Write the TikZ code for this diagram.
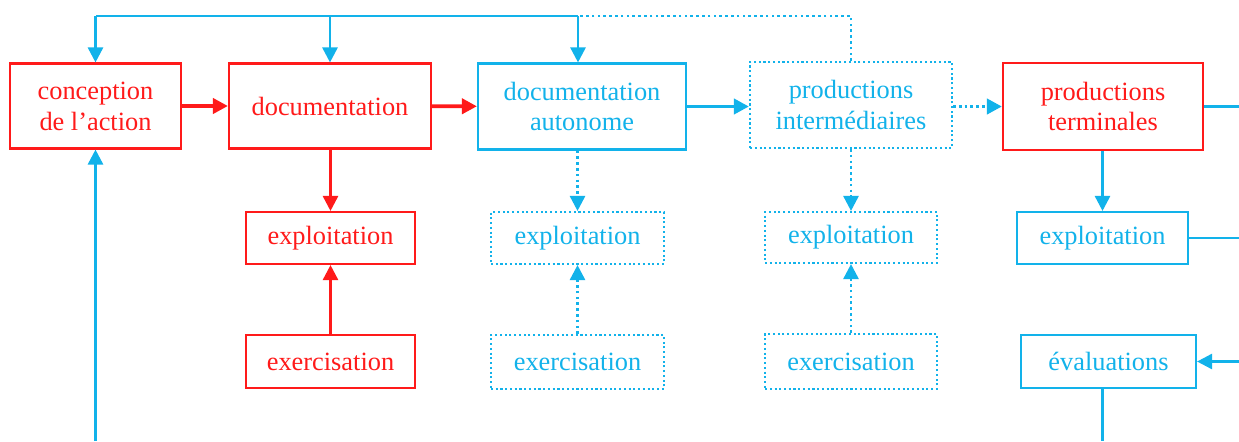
\documentclass[tikz,border=0pt]{standalone}
\usetikzlibrary{arrows.meta}
\usepackage{fontspec}
\setmainfont{Liberation Serif}
\definecolor{rouge}{HTML}{FF1A1A}
\definecolor{bleu}{HTML}{12B2EA}

\begin{document}
\begin{tikzpicture}[line width=1.5pt,>={Triangle[length=0.30cm,width=0.30cm]},
  box/.style={draw,rectangle,line width=1.2pt,align=center,inner sep=0pt,
    font=\fontsize{15}{17.6}\selectfont},
  redbox/.style={box,draw=rouge,text=rouge},
  bluebox/.style={box,draw=bleu,text=bleu},
  dotbox/.style={bluebox,dash pattern=on 1.2pt off 1.5pt},
  redarrow/.style={rouge,->},
  bluearrow/.style={bleu,->},
  dotarrow/.style={bleu,->,dash pattern=on 1.5pt off 1.8pt},
  thick arrow/.style={line width=2.2pt}]
\useasboundingbox (0,0) rectangle (24.78,8.82);
\coordinate (bas) at (0,0);
\coordinate (droite) at (24.78,0);
\coordinate (retour) at (11.56,8.50);
% ---- top row ----
\node[redbox,minimum width=3.42cm,minimum height=1.70cm] (conception) at (1.91,6.70)
  {conception\\de l’action};
\node[redbox,minimum width=4.04cm,minimum height=1.70cm] (documentation) at (6.60,6.70)
  {documentation};
\node[bluebox,minimum width=4.16cm,minimum height=1.72cm] (docauto) at (11.64,6.69)
  {documentation\\autonome};
\node[dotbox,minimum width=4.04cm,minimum height=1.72cm] (prodinter) at (17.02,6.72)
  {productions\\intermédiaires};
\node[redbox,minimum width=4.00cm,minimum height=1.74cm] (prodterm) at (22.06,6.69)
  {productions\\terminales};
% ---- exploitation row ----
\node[redbox,minimum width=3.38cm,minimum height=1.04cm] (exploitA) at (6.61,4.06) {exploitation};
\node[dotbox,minimum width=3.46cm,minimum height=1.04cm] (exploitB) at (11.55,4.06) {exploitation};
\node[dotbox,minimum width=3.44cm,minimum height=1.02cm] (exploitC) at (17.02,4.07) {exploitation};
\node[bluebox,minimum width=3.42cm,minimum height=1.04cm] (exploitD) at (22.05,4.06) {exploitation};
% ---- exercisation row ----
\node[redbox,minimum width=3.38cm,minimum height=1.06cm] (exerciseA) at (6.61,1.59) {exercisation};
\node[dotbox,minimum width=3.46cm,minimum height=1.08cm] (exerciseB) at (11.55,1.58) {exercisation};
\node[dotbox,minimum width=3.44cm,minimum height=1.10cm] (exerciseC) at (17.02,1.59) {exercisation};
\node[bluebox,minimum width=3.50cm,minimum height=1.06cm] (evaluations) at (22.17,1.59) {évaluations};
% ---- feedback line on top ----
\draw[bleu,dash pattern=on 1.5pt off 1.8pt] (prodinter.north) |- (retour);
\draw[bleu] (retour) -- (conception.north |- retour);
\draw[bluearrow] (conception.north |- retour) -- (conception.north);
\draw[bluearrow] (documentation.north |- retour) -- (documentation.north);
\draw[bluearrow] (retour) -- (retour |- docauto.north);
\draw[bluearrow] (conception.south |- bas) -- (conception.south);
% ---- horizontal chain ----
\draw[redarrow,thick arrow] (conception) -- (documentation);
\draw[redarrow,thick arrow] (documentation) -- (docauto);
\draw[bluearrow,thick arrow] (docauto.east) -- (prodinter.west |- docauto.east);
\draw[dotarrow,thick arrow] (prodinter.east |- prodterm.west) -- (prodterm.west);
\draw[bleu] (prodterm.east) -- (prodterm.east -| droite);
% ---- vertical links ----
\draw[redarrow] (documentation.south -| exploitA) -- (exploitA.north);
\draw[redarrow] (exerciseA) -- (exploitA);
\draw[dotarrow] (docauto.south -| exploitB) -- (exploitB.north);
\draw[dotarrow] (exerciseB) -- (exploitB);
\draw[dotarrow] (prodinter) -- (exploitC);
\draw[dotarrow] (exerciseC) -- (exploitC);
\draw[bluearrow] (prodterm.south -| exploitD) -- (exploitD.north);
\draw[bleu] (exploitD.east) -- (exploitD.east -| droite);
\draw[bluearrow] (evaluations.east -| droite) -- (evaluations.east);
\draw[bleu] (evaluations.south -| exploitD) -- (exploitD |- bas);
\end{tikzpicture}
\end{document}
